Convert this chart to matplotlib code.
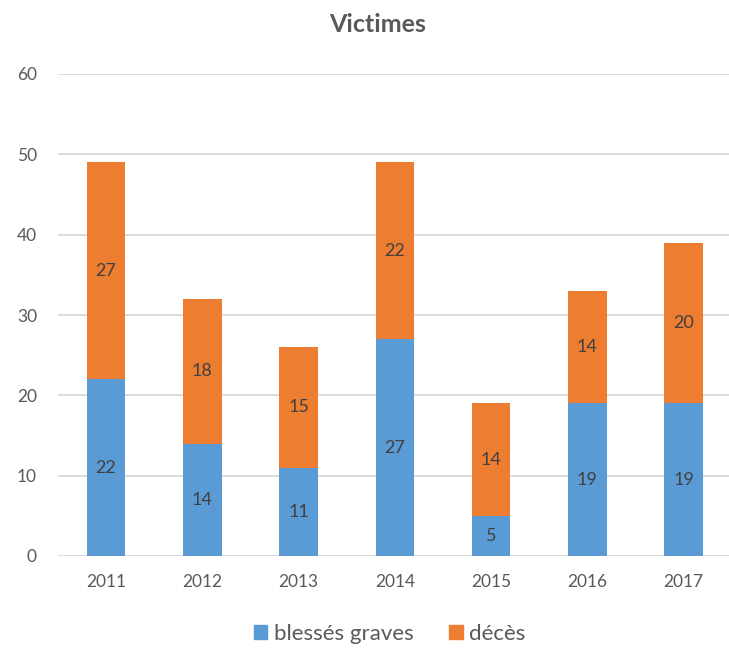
import matplotlib.pyplot as plt
from matplotlib.patches import Patch
import numpy as np

plt.rcParams['font.family'] = ['Lato', 'DejaVu Sans']

years = ['2011', '2012', '2013', '2014', '2015', '2016', '2017']
blesses = [22, 14, 11, 27, 5, 19, 19]
deces = [27, 18, 15, 22, 14, 14, 20]

blue = '#5B9BD5'
orange = '#ED7D31'
txt = '#404040'
tick_col = '#595959'

fig = plt.figure(figsize=(7.29, 6.48), dpi=100)
ax = fig.add_axes([57.8 / 729, 92 / 648, 671.2 / 729, 482 / 648])

x = np.arange(len(years))
w = 0.4
b1 = ax.bar(x, blesses, w, color=blue, zorder=3)
b2 = ax.bar(x, deces, w, bottom=blesses, color=orange, zorder=3)

for rect, v in zip(b1, blesses):
    ax.text(rect.get_x() + w / 2, rect.get_y() + v / 2, str(v),
            ha='center', va='center', fontsize=13, color=txt, zorder=4)
for rect, v, b in zip(b2, deces, blesses):
    ax.text(rect.get_x() + w / 2, b + v / 2, str(v),
            ha='center', va='center', fontsize=13, color=txt, zorder=4)

ax.set_xlim(-0.5, 6.47)
ax.set_ylim(0, 60)
ax.set_yticks(range(0, 61, 10))
ax.set_xticks(x)
ax.set_xticklabels(years)
ax.grid(axis='y', color='#d9d9d9', linewidth=1.3, zorder=0)
for s in ax.spines.values():
    s.set_visible(False)
ax.tick_params(axis='both', length=0, labelsize=12.5, colors=tick_col)
ax.tick_params(axis='y', pad=15)
ax.tick_params(axis='x', pad=13)

fig.text(378 / 729, 1 - 25 / 648, 'Victimes', ha='center', va='center',
         fontsize=18, fontweight='bold', color=tick_col)

handles = [Patch(color=blue, label='blessés graves'),
           Patch(color=orange, label='décès')]
fig.legend(handles=handles, loc='center', bbox_to_anchor=(390 / 729, 1 - 634 / 648),
           ncol=2, frameon=False, fontsize=16, handlelength=0.6, handleheight=0.6,
           handletextpad=0.3, columnspacing=1.6, labelcolor=tick_col)

fig.savefig('out.png', dpi=100)
